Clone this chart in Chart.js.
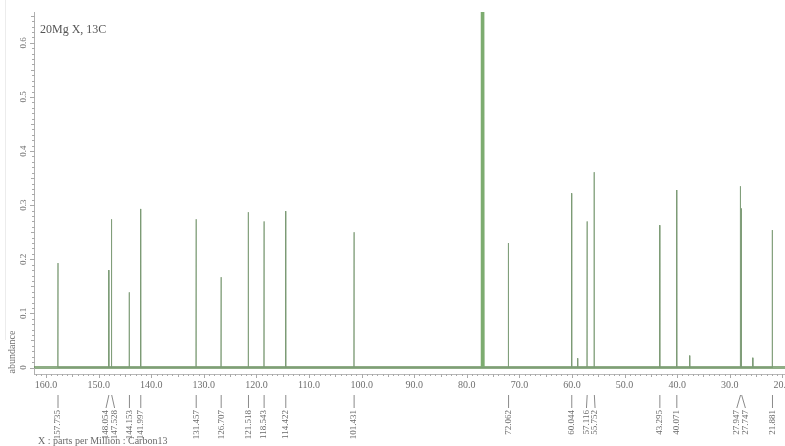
<!DOCTYPE html>
<html>
<head>
<meta charset="utf-8">
<script src="https://cdn.jsdelivr.net/npm/chart.js@4.4.1/dist/chart.umd.min.js"></script>
<style>
html, body { margin: 0; padding: 0; background: #fff; }
#wrap { position: relative; width: 785px; height: 446px; overflow: hidden; }
#edge { position: absolute; left: 5px; top: 0; width: 1px; height: 340px; background: #ececec; }
</style>
</head>
<body>
<div id="wrap"><canvas id="nmr" width="785" height="446"></canvas><div id="edge"></div></div>
<script>
// 13C spectrum (ppm, abundance)
const peakPpm = [157.735, 148.054, 147.528, 144.153, 141.997, 131.457, 126.707, 121.518, 118.543, 114.422,
  101.431, 72.062, 60.044, 58.9, 57.116, 55.752, 43.295, 40.071, 37.6, 27.947, 27.747, 25.6, 21.881]
const peakHeight = [0.193, 0.180, 0.274, 0.139, 0.293, 0.274, 0.167, 0.287, 0.270, 0.289,
  0.250, 0.230, 0.322, 0.017, 0.270, 0.361, 0.263, 0.328, 0.022, 0.335, 0.294, 0.018, 0.254]
// CDCl3 triplet, runs off the top
const solventPpm = [77.2, 77.0, 76.8]
const solventHeight = [0.98, 1.02, 0.97]
// shifts printed under the axis
const labelPpm = [157.735, 148.054, 147.528, 144.153, 141.997, 131.457, 126.707, 121.518, 118.543, 114.422,
  101.431, 72.062, 60.044, 57.116, 55.752, 43.295, 40.071, 27.947, 27.747, 21.881]
const xTicks = [160, 150, 140, 130, 120, 110, 100, 90, 80, 70, 60, 50, 40, 30, 20]
const yTicks = [0, 0.1, 0.2, 0.3, 0.4, 0.5, 0.6]
const yTickLabels = ['0', '0.1', '0.2', '0.3', '0.4', '0.5', '0.6']

const X_MIN = 19.5, X_MAX = 162.3
const serif = '"Liberation Serif", "DejaVu Serif", serif'

// sticks: baseline - apex - baseline for each line
function sticks(ppm, h, w) {
  const pts = []
  ppm.map((p, i) => ({p, h: h[i]})).sort((a, b) => a.p - b.p).forEach(d => {
    pts.push({x: d.p - w, y: 0}, {x: d.p, y: d.h}, {x: d.p + w, y: 0})
  })
  return pts
}

const axisDecor = {
  id: 'axisDecor',
  afterDraw(chart) {
    const {ctx, chartArea: a, scales: {x, y}} = chart
    ctx.save()
    ctx.strokeStyle = '#a9a9a9'
    ctx.lineWidth = 1
    ctx.beginPath()
    // y ticks every 0.01
    for (let i = 0; i <= 65; i++) {
      const py = Math.round(y.getPixelForValue(i / 100)) + 0.5
      const len = i % 10 === 0 ? 4 : (i % 5 === 0 ? 3 : 2)
      ctx.moveTo(a.left - len, py)
      ctx.lineTo(a.left + 1, py)
    }
    // x ticks every 1 ppm
    for (let p = 20; p <= 162; p++) {
      const px = Math.round(x.getPixelForValue(p)) + 0.5
      const len = p % 10 === 0 ? 4 : (p % 5 === 0 ? 3 : 2)
      ctx.moveTo(px, a.bottom)
      ctx.lineTo(px, a.bottom + len)
    }
    ctx.stroke()

    ctx.fillStyle = '#6f6f6f'
    // y labels, rotated
    ctx.font = '9px ' + serif
    ctx.textAlign = 'center'
    ctx.textBaseline = 'middle'
    yTicks.forEach((v, i) => {
      ctx.save()
      ctx.translate(24, y.getPixelForValue(v))
      ctx.rotate(-Math.PI / 2)
      ctx.fillText(yTickLabels[i], 0, 0)
      ctx.restore()
    })
    ctx.save()
    ctx.translate(12, 352)
    ctx.rotate(-Math.PI / 2)
    ctx.font = '10px ' + serif
    ctx.fillText('abundance', 0, 0)
    ctx.restore()

    // x labels
    ctx.font = '10px ' + serif
    xTicks.forEach(v => ctx.fillText(v.toFixed(1), x.getPixelForValue(v), 385))

    // title
    ctx.fillStyle = '#555'
    ctx.font = '12px ' + serif
    ctx.textAlign = 'left'
    ctx.textBaseline = 'alphabetic'
    ctx.fillText('20Mg X, 13C', 40, 33)

    // peak labels, spread so they do not overlap
    const items = labelPpm.map(p => ({p, px: x.getPixelForValue(p)})).sort((a, b) => a.px - b.px)
    items.forEach(d => d.lx = d.px)
    const gap = 8.6
    for (let k = 0; k < 60; k++) {
      for (let i = 1; i < items.length; i++) {
        const diff = items[i].lx - items[i - 1].lx
        if (diff < gap) {
          const o = (gap - diff) / 2
          items[i - 1].lx -= o
          items[i].lx += o
        }
      }
    }
    ctx.strokeStyle = '#8a8a8a'
    ctx.beginPath()
    items.forEach(d => {
      ctx.moveTo(d.px, 395)
      ctx.lineTo(d.lx, 408)
    })
    ctx.stroke()
    ctx.fillStyle = '#6a6a6a'
    ctx.font = '9px ' + serif
    ctx.textAlign = 'right'
    ctx.textBaseline = 'middle'
    items.forEach(d => {
      ctx.save()
      ctx.translate(d.lx, 410)
      ctx.rotate(-Math.PI / 2)
      ctx.fillText(d.p.toFixed(3), 0, 0)
      ctx.restore()
    })

    ctx.font = '10px ' + serif
    ctx.textAlign = 'left'
    ctx.textBaseline = 'alphabetic'
    ctx.fillText('X : parts per Million : Carbon13', 38, 444)
    ctx.restore()
  }
}

new Chart(document.getElementById('nmr'), {
  type: 'line',
  data: {
    datasets: [
      {
        label: 'peaks',
        data: sticks(peakPpm, peakHeight, 0.05),
        borderColor: 'rgba(125,155,118,0.85)',
        borderWidth: 1,
        pointRadius: 0,
        tension: 0
      },
      {
        label: 'CDCl3',
        data: sticks(solventPpm, solventHeight, 0.08),
        borderColor: 'rgb(125,172,112)',
        borderWidth: 1.2,
        pointRadius: 0,
        tension: 0
      },
      {
        label: 'baseline',
        data: [{x: X_MIN, y: 0}, {x: X_MAX, y: 0}],
        borderColor: 'rgba(95,140,82,0.7)',
        borderWidth: 3,
        pointRadius: 0
      }
    ]
  },
  options: {
    responsive: false,
    animation: false,
    devicePixelRatio: 1,
    layout: {padding: {top: 12, right: 0, left: 0, bottom: 0}},
    plugins: {legend: {display: false}, tooltip: {enabled: false}},
    scales: {
      x: {
        type: 'linear',
        reverse: true,
        min: X_MIN,
        max: X_MAX,
        grid: {display: false},
        border: {color: '#b8b8b8'},
        ticks: {display: false},
        afterFit: s => { s.height = 72 }
      },
      y: {
        min: -0.012,
        max: 0.657,
        grid: {display: false},
        border: {color: '#b0b0b0'},
        ticks: {display: false},
        afterFit: s => { s.width = 34 }
      }
    }
  },
  plugins: [axisDecor]
})
</script>
</body>
</html>
